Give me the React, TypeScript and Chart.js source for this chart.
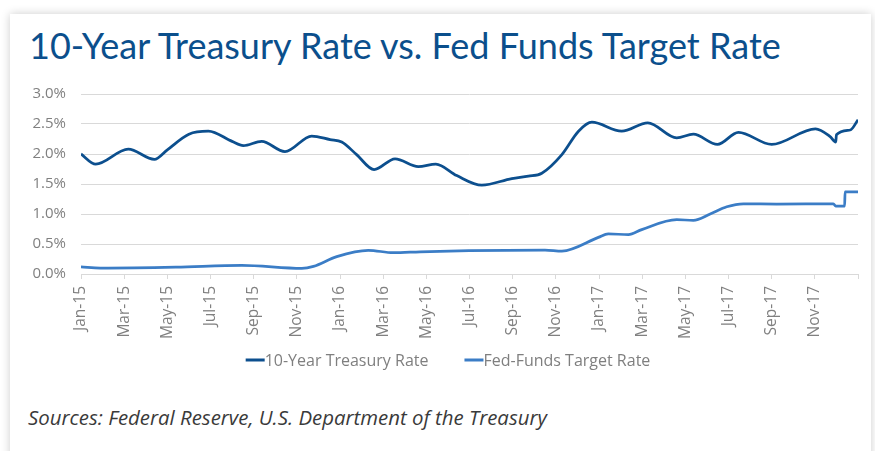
import React, { useEffect, useRef } from "react";
import { Chart, registerables } from "chart.js";

Chart.register(...registerables);

// X axis tick labels (every 2 months from Jan-15; last tick Jan-18 unlabeled)
const tickLabels = [
  "Jan-15", "Mar-15", "May-15", "Jul-15", "Sep-15", "Nov-15",
  "Jan-16", "Mar-16", "May-16", "Jul-16", "Sep-16", "Nov-16",
  "Jan-17", "Mar-17", "May-17", "Jul-17", "Sep-17", "Nov-17", "",
];

// 10-Year Treasury Rate: position in months since Jan-15, value in %
const treasuryMonth = [
  0, 0.68, 2.19, 3.4, 4.0, 5.0, 5.9, 7.0, 7.52, 8.37, 9.45, 10.69, 11.54, 12.08,
  12.77, 13.58, 14.55, 15.63, 16.44, 17.41, 18.57, 19.96, 20.73, 21.35, 22.28,
  23.05, 23.67, 25.05, 26.26, 27.6, 28.37, 29.49, 30.46, 32.0, 34.03, 34.71,
  34.97, 35.0, 35.64, 36,
];
const treasuryValue = [
  2.0, 1.83, 2.08, 1.91, 2.07, 2.33, 2.38, 2.21, 2.14, 2.21, 2.04, 2.3, 2.24, 2.2,
  1.99, 1.74, 1.92, 1.79, 1.83, 1.64, 1.48, 1.59, 1.63, 1.68, 1.99,
  2.38, 2.53, 2.38, 2.52, 2.27, 2.33, 2.16, 2.36, 2.16, 2.42, 2.29,
  2.2, 2.32, 2.4, 2.57,
];

// Fed-Funds Target Rate: position in months since Jan-15, value in %
const fedMonth = [
  0, 0.9, 4.4, 7.45, 10.23, 10.77, 11.85, 13.31, 14.47, 15.71, 17.98, 21.5, 22.28,
  23.97, 24.43, 25.36, 25.98, 27.6, 28.37, 29.15, 29.92, 30.69, 32.24, 34.86,
  34.97, 35.38, 35.4, 36,
];
const fedValue = [
  0.117, 0.1, 0.115, 0.145, 0.095, 0.128, 0.29, 0.395, 0.355, 0.37, 0.39, 0.4, 0.383,
  0.61, 0.67, 0.655, 0.74, 0.905, 0.895, 1.0, 1.12, 1.17, 1.165, 1.17,
  1.13, 1.13, 1.37, 1.37,
];

const seriesNames = ["10-Year Treasury Rate", "Fed-Funds Target Rate"];
const seriesColors = ["#0c4f8e", "#3b7dc6"];

const TITLE_FONT = "Lato, 'Open Sans', sans-serif";
const FONT = "'Open Sans', Lato, sans-serif";

const legendPlugin = {
  id: "lineLegend",
  afterDraw(chart: any) {
    const ctx = chart.ctx;
    const sets = chart.data.datasets;
    ctx.save();
    ctx.font = `16px ${FONT}`;
    const swatch = 19;
    const gap = 36;
    const widths = sets.map((d: any) => swatch + ctx.measureText(d.label).width);
    const total = widths.reduce((a: number, b: number) => a + b, 0) + gap * (sets.length - 1);
    let x = 448 - total / 2;
    const y = 280;
    sets.forEach((d: any, i: number) => {
      ctx.strokeStyle = d.borderColor;
      ctx.lineWidth = 3;
      ctx.beginPath();
      ctx.moveTo(x, y);
      ctx.lineTo(x + swatch, y);
      ctx.stroke();
      ctx.fillStyle = "#7f7f7f";
      ctx.textBaseline = "middle";
      ctx.textAlign = "left";
      ctx.fillText(d.label, x + swatch, y + 1);
      x += widths[i] + gap;
    });
    ctx.restore();
  },
};

export default function App() {
  const ref = useRef<HTMLCanvasElement>(null);

  useEffect(() => {
    if (!ref.current) return;
    const chart = new Chart(ref.current, {
      type: "line",
      data: {
        datasets: [
          {
            label: seriesNames[0],
            data: treasuryMonth.map((m, i) => ({ x: m, y: treasuryValue[i] })),
            borderColor: seriesColors[0],
            backgroundColor: seriesColors[0],
            borderWidth: 2.75,
            pointRadius: 0,
            cubicInterpolationMode: "monotone",
            fill: false,
          },
          {
            label: seriesNames[1],
            data: fedMonth.map((m, i) => ({ x: m, y: fedValue[i] })),
            borderColor: seriesColors[1],
            backgroundColor: seriesColors[1],
            borderWidth: 2.75,
            pointRadius: 0,
            cubicInterpolationMode: "monotone",
            fill: false,
          },
        ],
      },
      options: {
        responsive: false,
        animation: false,
        layout: { padding: { top: 14, right: 17, left: 0, bottom: 0 } },
        plugins: {
          legend: { display: false },
          tooltip: { enabled: false },
          title: { display: false },
        },
        scales: {
          x: {
            type: "linear",
            min: 0,
            max: 36,
            afterFit: (s: any) => {
              s.height = 116;
              s.paddingLeft = 0;
              s.paddingRight = 0;
            },
            afterBuildTicks: (s: any) => {
              s.ticks = tickLabels.map((_, i) => ({ value: i * 2 }));
            },
            grid: {
              display: true,
              drawOnChartArea: false,
              drawTicks: true,
              tickLength: 5,
              color: "#d9d9d9",
            },
            border: { display: true, color: "#d9d9d9" },
            ticks: {
              autoSkip: false,
              minRotation: 90,
              maxRotation: 90,
              padding: 7,
              color: "#808080",
              font: { family: FONT, size: 15.5 },
              callback: (v: any) => tickLabels[Math.round(Number(v) / 2)] ?? "",
            },
          },
          y: {
            min: 0,
            max: 3,
            afterFit: (s: any) => {
              s.width = 81;
              s.paddingTop = 0;
              s.paddingBottom = 0;
            },
            grid: { color: "#d9d9d9", drawTicks: false },
            border: { display: false },
            ticks: {
              stepSize: 0.5,
              padding: 15,
              color: "#808080",
              font: { family: FONT, size: 15 },
              callback: (v: any) => Number(v).toFixed(1) + "%",
            },
          },
        },
      },
      plugins: [legendPlugin],
    });
    return () => chart.destroy();
  }, []);

  return (
    <div
      style={{
        position: "fixed",
        left: 0,
        top: 0,
        width: 875,
        height: 451,
        background: "#ffffff",
        overflow: "hidden",
      }}
    >
      <div
        style={{
          position: "absolute",
          left: 10,
          top: 14,
          width: 861,
          height: 470,
          background: "#ffffff",
          boxShadow: "0 0 9px rgba(0,0,0,0.2)",
        }}
      />
      <div
        style={{
          position: "absolute",
          left: 29,
          top: 27,
          fontFamily: TITLE_FONT,
          fontSize: 36,
          lineHeight: "36px",
          color: "#0b4f8c",
          whiteSpace: "nowrap",
        }}
      >
        10-Year Treasury Rate vs. Fed Funds Target Rate
      </div>
      <canvas
        ref={ref}
        width={875}
        height={310}
        style={{ position: "absolute", left: 0, top: 80, width: 875, height: 310 }}
      />
      <div
        style={{
          position: "absolute",
          left: 28,
          top: 407,
          fontFamily: FONT,
          fontStyle: "italic",
          fontSize: 20.4,
          lineHeight: "20px",
          color: "#3a3a3a",
          whiteSpace: "nowrap",
        }}
      >
        Sources: Federal Reserve, U.S. Department of the Treasury
      </div>
    </div>
  );
}
